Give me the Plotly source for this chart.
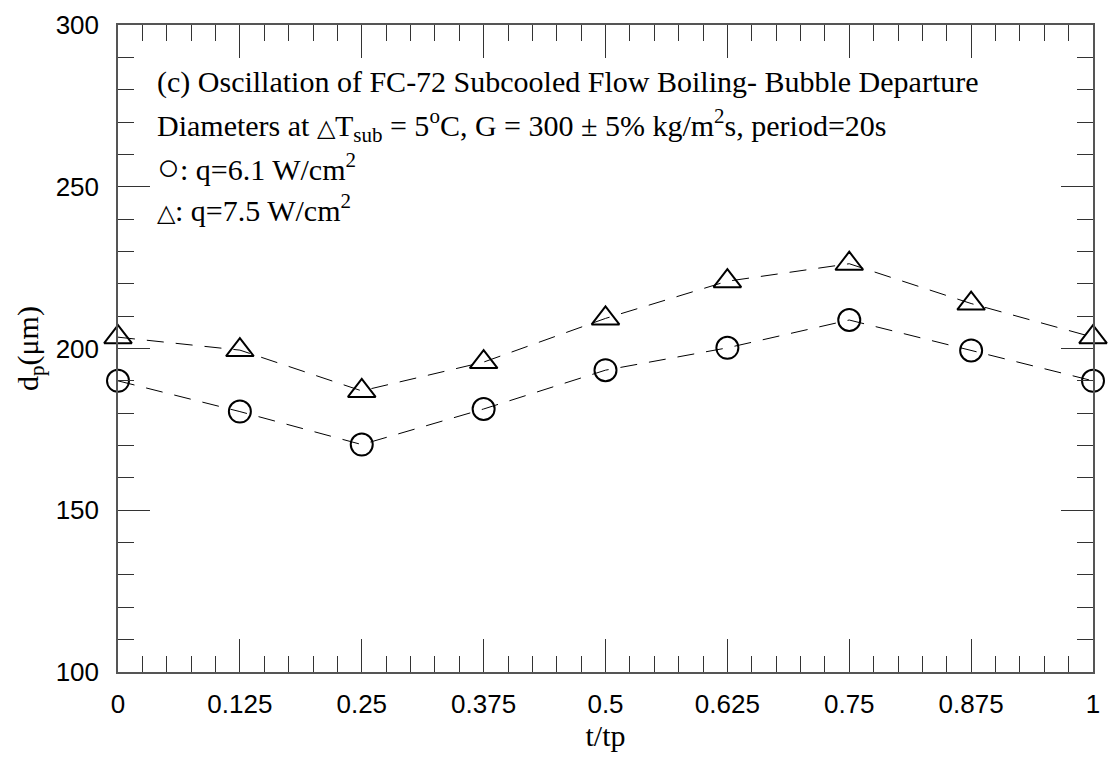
import plotly.graph_objects as go

# Data
t_over_tp = [0, 0.125, 0.25, 0.375, 0.5, 0.625, 0.75, 0.875, 1]
d_q61 = [190.0, 180.5, 170.3, 181.3, 193.3, 200.2, 208.8, 199.4, 190.0]
d_q75 = [203.5, 199.5, 186.9, 195.8, 209.3, 220.8, 226.2, 213.9, 203.5]

x_tickvals = [0, 0.125, 0.25, 0.375, 0.5, 0.625, 0.75, 0.875, 1]
x_ticktext = ["0", "0.125", "0.25", "0.375", "0.5", "0.625", "0.75", "0.875", "1"]
y_tickvals = [100, 150, 200, 250, 300]

TRI = '<span style="font-size:24px">\u25B3</span>'
CIRC = '<span style="font-size:38px">\u25CB</span>'
annotation_lines = [
    "(c) Oscillation of FC-72 Subcooled Flow Boiling- Bubble Departure",
    "Diameters at " + TRI + "T<sub>sub</sub> = 5<sup>o</sup>C, G = 300 \u00B1 5% kg/m<sup>2</sup>s, period=20s",
    CIRC + ": q=6.1 W/cm<sup>2</sup>",
    TRI + ": q=7.5 W/cm<sup>2</sup>",
]
annotation_y = [0.9112, 0.8453, 0.7810, 0.7167]

SERIF = "Liberation Serif, Times New Roman, serif"
SANS = "Liberation Sans, Arial, sans-serif"

fig = go.Figure()

fig.add_trace(go.Scatter(
    x=t_over_tp, y=d_q61, mode="lines+markers",
    line=dict(color="black", width=1, dash="17px,12px"),
    marker=dict(symbol="circle-open", size=22, color="black", line=dict(width=2, color="black")),
    cliponaxis=False, showlegend=False,
))
fig.add_trace(go.Scatter(
    x=t_over_tp, y=d_q75, mode="lines+markers",
    line=dict(color="black", width=1, dash="17px,12px"),
    marker=dict(symbol="triangle-up-open", size=24, color="black", line=dict(width=2, color="black")),
    cliponaxis=False, showlegend=False,
))

for txt, yy in zip(annotation_lines, annotation_y):
    fig.add_annotation(
        text=txt, xref="paper", yref="paper", x=0.0377, y=yy,
        xanchor="left", yanchor="middle", showarrow=False,
        font=dict(family=SERIF, size=30, color="black"),
    )

axis_common = dict(
    showgrid=False, zeroline=False, showline=True, linecolor="#555", linewidth=1.5,
    ticks="inside", tickcolor="#333", tickwidth=1.2, mirror="allticks",
    tickfont=dict(family=SANS, size=26, color="black"),
)

fig.update_xaxes(
    range=[0, 1], tickvals=x_tickvals, ticktext=x_ticktext, ticklen=33,
    minor=dict(dtick=0.025, ticklen=16, ticks="inside", tickcolor="#333", tickwidth=1.2, showgrid=False),
    ticklabelstandoff=8,
    title=dict(text="t/tp", font=dict(family=SERIF, size=30, color="black"), standoff=6),
    **axis_common,
)
fig.update_yaxes(
    range=[100, 300], tickvals=y_tickvals, ticklen=32,
    minor=dict(dtick=10, ticklen=16, ticks="inside", tickcolor="#333", tickwidth=1.2, showgrid=False),
    ticklabelstandoff=12,
    title=dict(text="d<sub>p</sub>(\u03BCm)", font=dict(family=SERIF, size=30, color="black"), standoff=8),
    **axis_common,
)

fig.update_layout(
    width=1110, height=763,
    margin=dict(l=118, r=10, t=19, b=91),
    paper_bgcolor="white", plot_bgcolor="white",
)

fig.write_html("out.html")
